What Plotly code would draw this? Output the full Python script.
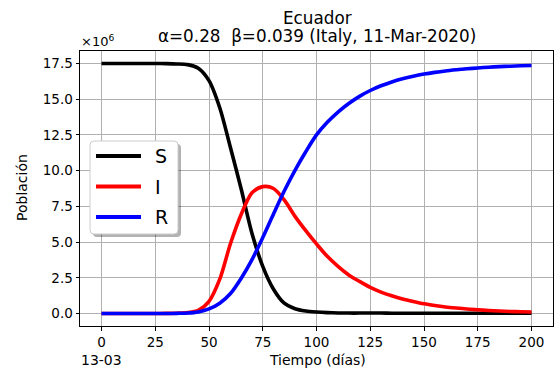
import plotly.graph_objects as go

# ---------------- data ----------------
days = list(range(0, 201, 5))
S = [17.50, 17.50, 17.50, 17.50, 17.50, 17.50, 17.49, 17.47, 17.42, 17.17,
     16.30, 14.40, 11.60, 8.70, 5.60, 3.30, 1.70, 0.72, 0.33, 0.17,
     0.10, 0.06, 0.04, 0.03, 0.03, 0.03, 0.03, 0.02, 0.02, 0.02,
     0.02, 0.02, 0.02, 0.02, 0.02, 0.02, 0.02, 0.02, 0.02, 0.02, 0.02]
I = [0.00, 0.00, 0.00, 0.00, 0.00, 0.00, 0.01, 0.02, 0.06, 0.22,
     0.85, 2.40, 4.90, 6.95, 8.45, 8.88, 8.75, 7.95, 6.80, 5.80,
     4.87, 4.00, 3.30, 2.70, 2.25, 1.83, 1.50, 1.24, 1.02, 0.84,
     0.68, 0.56, 0.46, 0.38, 0.31, 0.26, 0.21, 0.17, 0.145, 0.12, 0.10]
R = [0.00, 0.00, 0.00, 0.00, 0.00, 0.00, 0.00, 0.01, 0.03, 0.11,
     0.32, 0.72, 1.40, 2.47, 3.77, 5.32, 6.97, 8.57, 10.02, 11.32,
     12.50, 13.38, 14.10, 14.70, 15.20, 15.61, 15.94, 16.21, 16.43, 16.61,
     16.76, 16.88, 16.98, 17.06, 17.13, 17.19, 17.24, 17.28, 17.31, 17.34, 17.36]

series_names = ["S", "I", "R"]
series_colors = ["#000000", "#ff0000", "#0000ff"]
xticks = [0, 25, 50, 75, 100, 125, 150, 175, 200]
yticks = [0.0, 2.5, 5.0, 7.5, 10.0, 12.5, 15.0, 17.5]
title_lines = ["Ecuador", "α=0.28  β=0.039 (Italy, 11-Mar-2020)"]
x_label = "Tiempo (días)"
y_label = "Población"
start_date = "13-03"
y_exponent = "×10<sup>6</sup>"

# ---------------- layout geometry ----------------
W, H = 554, 371
ML, MR, MT, MB = 80, 1, 51, 45
PW = W - ML - MR
PH = H - MT - MB
FONT = "DejaVu Sans"
TICK_SIZE = 13.5
LABEL_SIZE = 14
TITLE_SIZE = 16.8


def fx(px):
    return (px - ML) / PW


def fy(py):
    return (H - MB - py) / PH


fig = go.Figure()
for name, vals, col in zip(series_names, [S, I, R], series_colors):
    fig.add_trace(go.Scatter(
        x=days, y=vals, mode="lines", name=name,
        line=dict(color=col, width=3.6, shape="spline", smoothing=0.8),
        showlegend=False, hoverinfo="skip"))

axis_common = dict(
    ticks="outside", ticklen=3.5, tickwidth=1, tickcolor="black",
    showline=True, mirror=True, linecolor="black", linewidth=1,
    showgrid=True, gridcolor="#b0b0b0", gridwidth=1, zeroline=False,
    tickfont=dict(family=FONT, size=TICK_SIZE, color="black"),
)

fig.update_layout(
    width=W, height=H, autosize=False,
    margin=dict(l=ML, r=MR, t=MT, b=MB, pad=0),
    paper_bgcolor="white", plot_bgcolor="white",
    font=dict(family=FONT, color="black"),
    xaxis=dict(range=[-10, 210], tickvals=xticks,
               ticktext=[str(v) for v in xticks], **axis_common),
    yaxis=dict(range=[-0.875, 18.375], tickvals=yticks,
               ticktext=[f"{v:.1f}" for v in yticks], **axis_common),
)

ann = []
ann.append(dict(text=title_lines[0], xref="paper", yref="paper",
                x=fx(317), y=fy(18), xanchor="center", yanchor="middle",
                showarrow=False, font=dict(family=FONT, size=TITLE_SIZE, color="black")))
ann.append(dict(text=title_lines[1], xref="paper", yref="paper",
                x=fx(317), y=fy(36), xanchor="center", yanchor="middle",
                showarrow=False, font=dict(family=FONT, size=TITLE_SIZE, color="black")))
ann.append(dict(text=y_exponent, xref="paper", yref="paper",
                x=fx(79), y=fy(41), xanchor="left", yanchor="middle",
                showarrow=False, font=dict(family=FONT, size=13, color="black")))
ann.append(dict(text=x_label, xref="paper", yref="paper",
                x=fx(317), y=fy(359.5), xanchor="center", yanchor="middle",
                showarrow=False, font=dict(family=FONT, size=LABEL_SIZE, color="black")))
ann.append(dict(text=start_date, xref="x", yref="paper",
                x=0, y=fy(359.5), xanchor="center", yanchor="middle",
                showarrow=False, font=dict(family=FONT, size=LABEL_SIZE, color="black")))
ann.append(dict(text=y_label, xref="paper", yref="paper",
                x=fx(22), y=fy(188), xanchor="center", yanchor="middle",
                textangle=-90, showarrow=False,
                font=dict(family=FONT, size=LABEL_SIZE, color="black")))

# ---------------- custom legend ----------------
def rounded_rect(x0, y0, x1, y1, r):
    rx, ry = r / PW, r / PH
    X0, X1 = fx(x0), fx(x1)
    Y0, Y1 = fy(y0), fy(y1)  # Y0 top, Y1 bottom
    return (f"M{X0 + rx},{Y0} L{X1 - rx},{Y0} Q{X1},{Y0} {X1},{Y0 - ry} "
            f"L{X1},{Y1 + ry} Q{X1},{Y1} {X1 - rx},{Y1} "
            f"L{X0 + rx},{Y1} Q{X0},{Y1} {X0},{Y1 + ry} "
            f"L{X0},{Y0 - ry} Q{X0},{Y0} {X0 + rx},{Y0} Z")

shapes = []
box = (90, 141, 178, 234)
shapes.append(dict(type="path", xref="paper", yref="paper", layer="above",
                   path=rounded_rect(box[0] + 3, box[1] + 3, box[2] + 3, box[3] + 3, 4),
                   fillcolor="rgba(0,0,0,0.3)", line=dict(width=0)))
shapes.append(dict(type="path", xref="paper", yref="paper", layer="above",
                   path=rounded_rect(*box, 4),
                   fillcolor="white", line=dict(color="#cccccc", width=1)))
row_y = [156, 186.5, 217]
for name, col, yy in zip(series_names, series_colors, row_y):
    shapes.append(dict(type="line", xref="paper", yref="paper", layer="above",
                       x0=fx(96), x1=fx(141), y0=fy(yy), y1=fy(yy),
                       line=dict(color=col, width=4)))
    ann.append(dict(text=name, xref="paper", yref="paper",
                    x=fx(153), y=fy(yy), xanchor="left", yanchor="middle",
                    showarrow=False, font=dict(family=FONT, size=19, color="black")))

fig.update_layout(annotations=ann, shapes=shapes)
fig.write_html("out.html")
